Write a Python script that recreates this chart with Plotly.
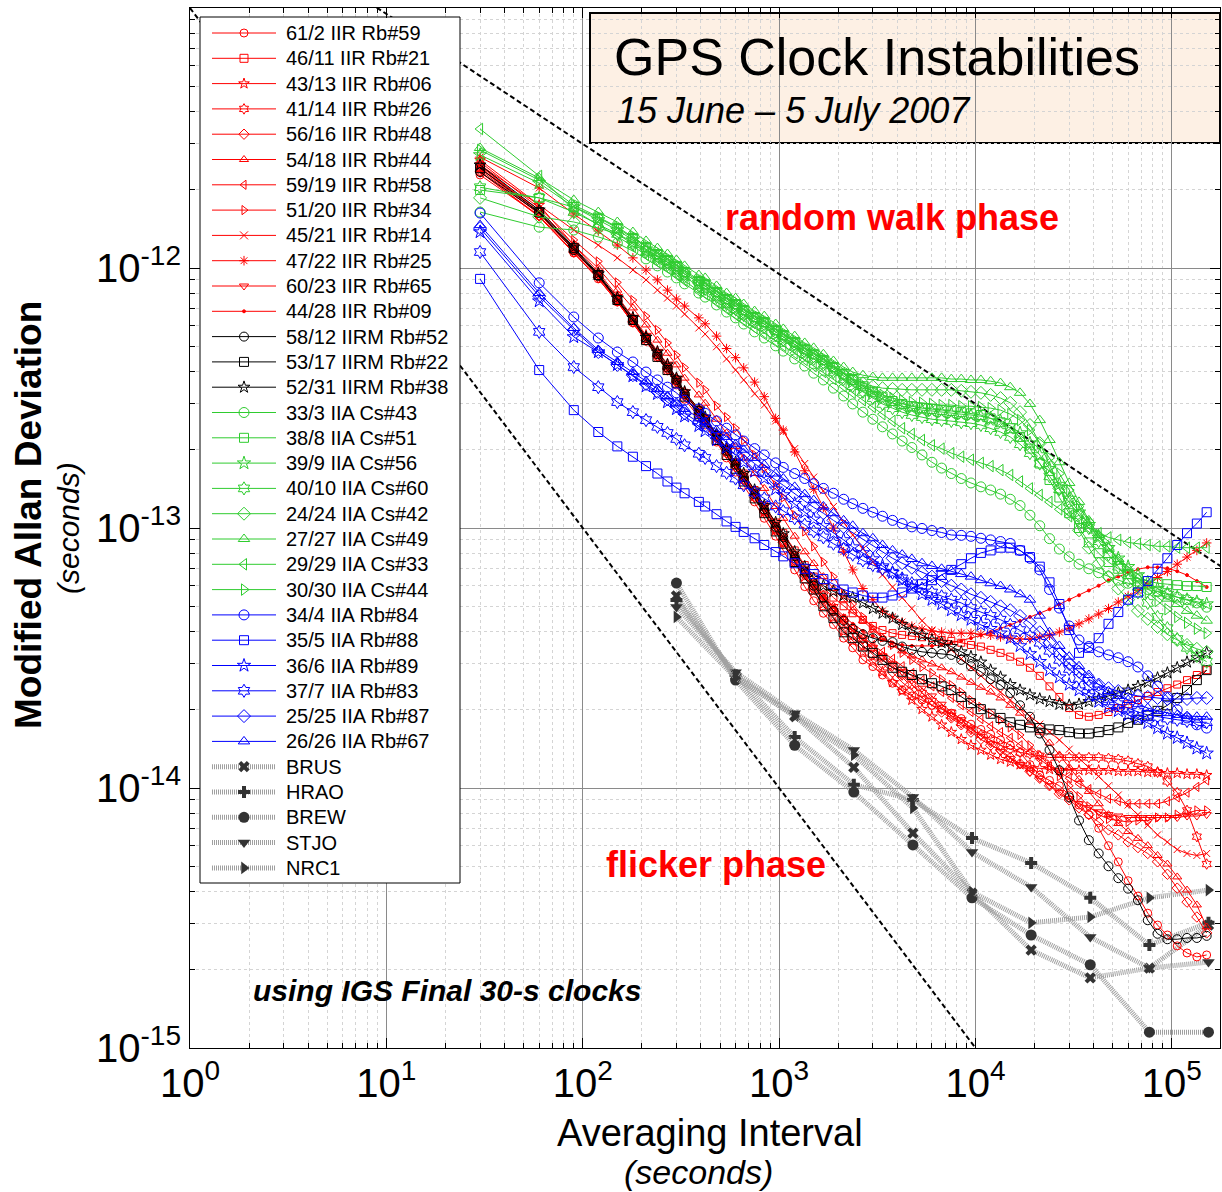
import plotly.graph_objects as go

# ---------------- data ----------------
TAU = [30, 60, 90, 120, 150, 180, 210, 240, 270, 300,
       330, 390, 420, 480, 540, 600, 660, 750, 840, 960,
       1050, 1200, 1350, 1500, 1680, 1890, 2130, 2370, 2670, 3000,
       3360, 3780, 4230, 4740, 5340, 6000, 6720, 7530, 8460, 9480,
       10650, 11940, 13410, 15030, 16860, 18930, 21240, 23820, 26730, 30000,
       33660, 37770, 42390, 47550, 53340, 59850, 67170, 75360, 84540, 94860,
       106440, 119430, 134010, 150360]
STATION_TAU = [300, 600, 1200, 2400, 4800, 9600, 19200, 38400, 76800, 153600]

# Modified Allan deviation, in units of 1e-15 s
IIR_61_2 = [2280,1586,1142,908,740,615,523,452,402,355,313,267,249,214,186,164,146,126,109,93,82,69,59.5,52.5,47,42.5,37.7,34.6,31.1,29.3,27.2,25.3,23.8,22.6,21.8,20.8,20.1,19.4,18.5,17.6,16.8,16.1,15.3,14.6,13.7,12.3,11.2,10.7,10.2,9.4,8.6,7.9,7.0,6.0,5.2,4.4,3.84,3.30,2.97,2.72,2.47,2.32,2.24,2.28]
IIR_46_11 = [2420,1614,1172,932,753,631,538,466,414,371,331,284,264,228,202,179,162,140,122,105,95.5,82,72,65,59,54,50,47,44.3,42,40.5,39.4,38.8,38.4,38,37.7,37.1,36.8,36.2,35.5,35,34,33.1,32,30.6,29,27,24.6,22.4,20.3,19.1,18.8,19.1,19.6,20.3,21,21.8,22.6,23.4,24.2,25,26,27.2,28.4]
IIR_43_13 = [2602,1746,1225,965,779,648,552,479,428,377,334,284,264,226,198,175,155,133,115,98,88,74,65,57,51,45.5,40.5,36.8,33.4,30.6,28,25.5,23.6,21.8,20.1,18.8,17.5,16.4,15.4,14.6,14,13.4,12.9,12.6,12.3,12,11.9,11.8,11.7,11.7,11.7,11.7,11.7,11.7,11.6,11.6,11.6,11.5,11.5,11.4,11.4,11.3,11.3,11.2]
IIR_41_14 = [2489,1640,1182,940,760,637,543,470,418,374,331,284,264,228,200,177,158,137,120,103,92,79,69,61,55,49.6,44.7,40.8,37.4,34.6,32,29.5,27.2,25,23.2,21.6,20.1,18.9,17.8,16.8,16,15.3,14.6,14.1,13.7,13.5,13.3,13.1,13.1,13.1,13.1,13.1,13.1,13.0,12.9,12.7,12.4,12.1,11.5,10.6,9.6,8.2,6.5,5.1]
IIR_56_16 = [2340,1586,1152,921,746,620,528,458,409,364,322,276,258,222,194,172,153,131,115,98,88,75,66,58.5,53,48,42.5,38.7,35.5,32.5,30,27.9,25.5,23.8,22.2,20.8,19.6,18.6,17.5,16.4,15.4,14.6,14,13.1,12.4,11.6,10.9,10.2,9.5,9.0,8.4,7.9,7.4,6.9,6.6,6.2,5.9,5.6,5.2,4.66,4.12,3.64,3.19,2.77]
IIR_54_18 = [2420,1671,1225,996,822,702,604,528,470,424,377,325,302,262,232,206,186,162,142,121,109,93,81,73,65,58.5,53,48,44,40.5,37.7,35.5,33.7,32.2,31.1,30,29,28,26.7,25.5,24.4,23.4,22.2,20.8,19.4,17.9,16.4,14.9,13.4,12,10.8,9.7,8.7,7.9,7.3,6.8,6.4,6.0,5.5,5.1,4.55,4.05,3.55,2.92]
IIR_59_19 = [2382,1614,1172,932,753,631,538,466,414,371,328,282,262,226,198,175,157,135,118,101,90.5,77.5,68,60,54,49,44.7,41.2,38,35.5,33.4,31.4,29.4,27.7,26,24.6,23.4,22.2,20.8,19.6,18.4,17.3,16.4,15.6,14.6,13.7,12.9,12.1,11.5,10.9,10.4,9.9,9.5,9.1,8.9,8.7,8.7,8.7,8.7,8.9,9.2,9.6,10.1,10.7]
IIR_51_20 = [2556,1700,1282,1060,880,753,653,578,515,462,414,362,340,295,267,242,218,191,170,146,131,112,97,85,74,65,56,51,45.5,41.2,38,35.5,33.1,31.1,29.2,27.7,26.2,24.9,23.4,21.8,20.5,19.4,18.3,17.1,16,14.6,13.4,12.1,11.1,10.2,9.3,8.5,7.9,7.6,7.5,7.4,7.5,7.5,7.7,7.7,7.9,8.0,8.2,8.2]
IIR_45_21 = [2489,1746,1400,1225,1094,982,900,822,766,714,665,588,557,498,447,405,371,328,297,258,235,202,177,157,139,121,105,94,83,74,66,59.3,54,49,44,40.5,37.1,34,31.4,29,27,25,23.4,21.8,20.3,18.9,17.6,16.4,15.3,14.1,13,12,11.1,10.2,9.4,8.6,7.9,7.2,6.6,6.2,5.8,5.6,5.5,5.6]
IIR_47_22 = [2670,2030,1614,1388,1225,1094,982,900,822,760,714,643,610,547,490,452,413,364,320,264,238,196,166,141,120,100,81,69,58.5,53,48,45.5,43.5,41.9,40.9,40.2,39.8,39.4,39.4,39.4,39,38.7,38.1,37.7,37.4,37.4,38.1,38.7,39.8,41.2,42.8,44.7,46.7,49,51.9,54.7,57.5,60.5,64.5,68,72.6,77.3,82,87.6]
IIR_60_23 = [2340,1573,1142,908,740,615,523,455,405,362,320,274,255,220,193,170,153,131,115,98,88,75,66,58.5,53,48.2,43.6,40.2,37.1,34.6,32.2,30,28,26,24.2,22.6,21,19.6,18.3,17,15.8,14.8,13.8,13,12.3,11.5,10.9,10.2,9.6,9.1,8.7,8.4,8.1,7.9,7.8,7.7,7.7,7.7,7.7,7.7,7.7,7.8,7.8,7.9]
IIR_44_28 = [2466,1640,1182,940,760,637,543,470,418,374,331,284,264,228,200,177,160,137,120,103,92,79,69,61,55,50,45.9,42.8,40.2,38.4,37.1,36.2,35.5,35.2,35.2,35.2,35.5,36.2,36.8,37.7,38.7,39.8,41.2,42.4,43.9,45.5,47,48.7,50.9,53,55.1,57.5,60,62.9,65.1,67.5,69.4,70.6,70.6,70,68.2,65.9,62.5,59.3]
IIRM_58_12 = [2340,1630,1172,932,753,631,538,466,414,371,328,282,262,226,198,175,157,135,118,101,92,78,68,60,54,48,44,41,39,37.7,36.8,36.4,35,34,33.4,33.1,32.8,32.5,31.1,29.4,28,26.2,24.9,23.2,20.8,18.8,16.2,14,11.7,9.2,7.5,6.3,5.6,5.0,4.5,4.1,3.7,3.1,2.75,2.62,2.62,2.65,2.65,2.70]
IIRM_53_17 = [2420,1640,1192,940,753,631,528,455,405,362,320,274,255,218,191,169,151,130,114,97,87,74,64,58,50,45,39.7,37.7,35,33.1,31.1,29,28,27.2,26.2,25.3,24.6,23.8,22.4,21.2,20.1,19.3,18.6,17.9,17.5,17.1,17,16.8,16.7,16.4,16.2,16.2,16.4,16.7,17.1,17.8,18.3,19,19.8,20.8,22.2,23.8,26,28.4]
IIRM_52_31 = [2489,1671,1203,950,766,643,542,475,424,377,334,287,267,230,202,179,162,140,122,105,95,81,71,64,60,57,55,54,51.5,49,47,45,42.5,40.5,38.7,37.1,36.2,35,33.4,32,30.5,28.4,26.7,25,23.8,22.8,22,21.5,21,20.8,21,21.5,22,22.6,23.2,23.8,24.6,25.5,26.5,27.7,29,30.5,31.7,33.1]
IIA_33_3 = [1641,1436,1400,1317,1247,1162,1084,1019,965,916,869,801,773,721,677,643,609,568,538,502,479,447,420,394,371,345,322,300,279,262,245,230,216,204,191,179,170,162,155,149,144,140,135,129,122,112,102,91,83,77.5,72.6,69.7,67.3,65,63,61.3,59.8,58,57,55.6,54.2,53,51.5,49.6]
IIA_38_8 = [1995,1861,1716,1561,1424,1305,1203,1132,1074,1019,965,892,869,808,760,727,689,648,620,578,552,519,489,466,443,416,390,371,351,334,320,308,300,294,289,287,284,282,279,276,272,264,255,242,224,202,177,153,131,114,100,88,80,74,69.7,66.5,64,62.5,61.3,60.8,60.3,59.8,59.8,59.3]
IIA_39_9 = [2722,2121,1716,1531,1400,1282,1182,1112,1055,1000,949,877,853,794,746,714,677,637,609,568,543,510,479,458,435,409,384,364,345,328,313,303,294,289,284,282,279,276,274,272,269,264,258,247,232,212,191,169,147,130,115,103,92,84,76.5,71,66,61.8,58.5,56,54.2,53,52,51]
IIA_40_10 = [2045,1861,1641,1476,1352,1236,1152,1084,1028,973,924,853,830,773,727,695,659,620,593,552,528,498,466,447,424,398,374,351,334,316,300,289,279,272,267,262,260,258,255,253,249,242,234,224,210,194,177,158,141,126,112,100,89,79,71,63,56.5,51.5,45.5,41.2,37.4,34.6,32.2,30.6]
IIA_24_24 = [1861,1573,1503,1424,1352,1259,1172,1112,1055,1000,949,877,853,794,746,714,677,637,609,568,543,510,479,458,435,413,390,374,361,351,345,343,340,340,340,340,340,340,337,334,331,325,316,303,279,249,212,175,142,117,98,84,73,65,58.5,53,48,44.7,41.6,39,37.1,35.5,34.3,33.4]
IIA_27_27 = [2895,2218,1827,1641,1503,1375,1271,1193,1132,1074,1019,940,916,853,801,766,727,683,653,609,583,547,515,493,466,439,416,398,387,381,378,378,378,378,378,378,378,374,374,371,371,367,361,348,331,300,260,218,179,149,126,107,94,84,76,70,64,60,56,53.5,51,48,46,44]
IIA_29_29 = [3426,2260,1671,1462,1328,1214,1122,1055,1000,940,892,815,794,740,695,659,626,588,562,523,502,470,443,420,398,374,351,331,310,292,274,258,242,230,218,208,202,194,188,183,178,173,167,160,151,142,134,126,118,111,105,100,95.5,92,90,88,87,86,85,85,84,84,84,84]
IIA_30_30 = [2844,2178,1746,1573,1436,1317,1214,1152,1084,1028,973,900,877,815,766,740,695,653,626,583,557,523,493,470,447,420,394,374,355,337,325,316,310,305,303,300,297,297,294,294,292,289,284,274,260,238,212,186,162,140,121,106,94,84,75,68.4,61.8,56.5,52.4,48.7,45.5,43.2,41,39.4]
IIA_34_4 = [1627,877,648,538,475,435,398,371,348,331,310,287,276,258,242,228,216,202,191,178,171,162,155,148,142,136,129,124,119,115,111,107,104,101,99.6,97.8,96.1,94,93.7,92.9,91.3,90,88.7,87.2,82,76.5,69,58,49.2,42,37.1,35,33.4,32.5,31.7,30.6,29.2,27,24.6,22.4,20,18.6,17.5,17]
IIA_35_5 = [908,405,284,234,206,188,173,162,151,143,136,126,121,113,106,101,96.6,91.3,86,80.8,77.8,73.2,69.7,66.5,63.6,60.8,58,56.5,55,54,54,55,56.5,58.5,60.8,63,66,69,72.6,76.5,80.2,82,84,84,82,77.3,71,61.8,51,40.5,33.1,34.6,37.7,42.8,47.5,53,56.5,62.5,69.7,76.5,86,95.5,104,115]
IIA_36_6 = [1375,746,543,475,424,384,351,328,305,287,269,247,236,218,204,191,179,165,155,141,134,124,115,108,102,95.5,90,84.5,80.2,76,71.4,67.3,63,59.3,55.6,53,51,48.3,46.3,44.4,42.4,41,39.4,37.7,35.2,32.8,30.6,28.4,26.7,25,23.8,22.6,21.5,20.5,19.8,19.1,18.5,17.8,17,16.2,15.6,14.9,14.2,13.6]
IIA_37_7 = [1152,568,416,348,305,279,260,245,232,220,208,193,186,173,163,155,146,137,130,121,116,109,103,97,92,87,83,79,75,72,69.7,67.3,64,61.3,58.5,56.5,54.6,53,51.5,49.2,47.5,45.9,44.4,42.4,40.5,38.4,36.2,33.7,31.1,28.7,26.5,24.6,23.2,22,21,20.3,19.6,19.1,18.8,18.5,18.3,18.1,17.9,17.9]
IIA_25_25 = [1424,779,578,475,424,387,358,334,313,294,276,255,247,228,214,202,191,177,165,153,146,135,127,120,114,107,101,95.5,90,85,80.8,76.5,73.2,70.3,67.3,65,62.5,60,58,55.6,53.9,52,50,48.3,45.9,43.2,39.7,36.2,32.8,30,28,26.2,25,24.2,23.6,23,22.6,22.4,22.2,22,22,22,22.2,22.2]
IIA_26_26 = [1462,801,588,484,435,398,367,343,322,303,287,264,255,238,224,210,200,186,175,162,155,144,135,128,121,114,107,102,95.5,91.3,86,82,79,76,73.2,71.4,69.7,68.4,66.5,65,63,61.3,59.8,58,55.6,53,46,39.7,35.2,32,29.4,27.2,25,23.6,22.6,21.8,21,20.3,19.8,19.4,19.1,18.9,18.8,18.8]

BRUS = [54.8, 27.0, 18.9, 12.0, 6.71, 3.94, 2.38, 1.86, 2.03, 2.97]
HRAO = [52.8, 27.2, 15.7, 10.3, 9.0, 6.42, 5.15, 3.78, 2.49, 3.03]
BREW = [61.4, 26.0, 14.6, 9.65, 6.04, 3.78, 2.72, 2.09, 1.15, 1.15]
STJO = [49.7, 27.9, 19.4, 14.0, 9.23, 5.67, 4.16, 2.67, 2.03, 2.14]
NRC1 = [45.5, 26.5, 18.9, 13.4, 8.38, 3.98, 3.03, 3.19, 3.78, 4.05]

# reference slopes (end points)
RW_TAU = [1, 180000]
RW_MDEV = [3.0e-11, 7.07e-14]
FL_TAU = [1, 10000]
FL_MDEV = [1e-11, 1e-15]

UNIT = 1e-15

# ---------------- styles ----------------
RED = '#ff0000'
BLK = '#000000'
GRN = '#2fcc2f'
BLU = '#0000ff'
ST_LINE = '#a0a0a0'
ST_MARK = '#333333'
FONT = 'Liberation Sans, Arial, Helvetica, sans-serif'

CLOCKS = [
    ('61/2 IIR Rb#59', IIR_61_2, RED, 'circle-open', 8),
    ('46/11 IIR Rb#21', IIR_46_11, RED, 'square-open', 7),
    ('43/13 IIR Rb#06', IIR_43_13, RED, 'star-open', 8),
    ('41/14 IIR Rb#26', IIR_41_14, RED, 'hexagram-open', 8),
    ('56/16 IIR Rb#48', IIR_56_16, RED, 'diamond-open', 8),
    ('54/18 IIR Rb#44', IIR_54_18, RED, 'triangle-up-open', 8),
    ('59/19 IIR Rb#58', IIR_59_19, RED, 'triangle-left-open', 8),
    ('51/20 IIR Rb#34', IIR_51_20, RED, 'triangle-right-open', 8),
    ('45/21 IIR Rb#14', IIR_45_21, RED, 'x-thin-open', 7),
    ('47/22 IIR Rb#25', IIR_47_22, RED, 'asterisk-open', 8),
    ('60/23 IIR Rb#65', IIR_60_23, RED, 'triangle-down-open', 8),
    ('44/28 IIR Rb#09', IIR_44_28, RED, 'circle', 3),
    ('58/12 IIRM Rb#52', IIRM_58_12, BLK, 'circle-open', 9),
    ('53/17 IIRM Rb#22', IIRM_53_17, BLK, 'square-open', 9),
    ('52/31 IIRM Rb#38', IIRM_52_31, BLK, 'star-open', 9),
    ('33/3 IIA Cs#43', IIA_33_3, GRN, 'circle-open', 10),
    ('38/8 IIA Cs#51', IIA_38_8, GRN, 'square-open', 9),
    ('39/9 IIA Cs#56', IIA_39_9, GRN, 'star-open', 10),
    ('40/10 IIA Cs#60', IIA_40_10, GRN, 'hexagram-open', 10),
    ('24/24 IIA Cs#42', IIA_24_24, GRN, 'diamond-open', 10),
    ('27/27 IIA Cs#49', IIA_27_27, GRN, 'triangle-up-open', 10),
    ('29/29 IIA Cs#33', IIA_29_29, GRN, 'triangle-left-open', 10),
    ('30/30 IIA Cs#44', IIA_30_30, GRN, 'triangle-right-open', 10),
    ('34/4 IIA Rb#84', IIA_34_4, BLU, 'circle-open', 10),
    ('35/5 IIA Rb#88', IIA_35_5, BLU, 'square-open', 9),
    ('36/6 IIA Rb#89', IIA_36_6, BLU, 'star-open', 10),
    ('37/7 IIA Rb#83', IIA_37_7, BLU, 'hexagram-open', 10),
    ('25/25 IIA Rb#87', IIA_25_25, BLU, 'diamond-open', 10),
    ('26/26 IIA Rb#67', IIA_26_26, BLU, 'triangle-up-open', 10),
]
STATIONS = [
    ('BRUS', BRUS, 'x', 10),
    ('HRAO', HRAO, 'cross', 10),
    ('BREW', BREW, 'circle', 11),
    ('STJO', STJO, 'triangle-down', 11),
    ('NRC1', NRC1, 'triangle-right', 11),
]

ST_DASH = '1px,1px'

fig = go.Figure()

# reference slope lines
for tx, ty in ((RW_TAU, RW_MDEV), (FL_TAU, FL_MDEV)):
    fig.add_trace(go.Scatter(x=tx, y=ty, mode='lines', showlegend=False, hoverinfo='skip',
                             line=dict(color='black', width=2, dash='5px,3px')))

# station clocks
for name, vals, sym, sz in STATIONS:
    fig.add_trace(go.Scatter(
        x=STATION_TAU, y=[v * UNIT for v in vals], mode='lines+markers', name=name,
        showlegend=False,
        line=dict(color=ST_LINE, width=5, dash=ST_DASH),
        marker=dict(symbol=sym, size=sz, color=ST_MARK, line=dict(width=0))))

# satellite clocks
for name, vals, col, sym, sz in CLOCKS:
    fig.add_trace(go.Scatter(
        x=TAU, y=[v * UNIT for v in vals], mode='lines+markers', name=name,
        showlegend=False,
        line=dict(color=col, width=1),
        marker=dict(symbol=sym, size=sz, color=col, line=dict(color=col, width=1))))

# ---------------- custom legend (overlay axes in pixel units) ----------------
L_X0, L_X1, L_Y0, L_Y1 = 10, 270, 9, 875
fig.add_trace(go.Scatter(x=[L_X0, L_X1, L_X1, L_X0, L_X0], y=[L_Y0, L_Y0, L_Y1, L_Y1, L_Y0],
                         xaxis='x2', yaxis='y2', mode='lines', fill='toself',
                         fillcolor='white', line=dict(color='black', width=1),
                         showlegend=False, hoverinfo='skip'))
annotations = []
entries = [(n, c, s, z, False) for n, _, c, s, z in CLOCKS] + \
          [(n, ST_MARK, s, z, True) for n, _, s, z in STATIONS]
for i, (name, col, sym, sz, is_st) in enumerate(entries):
    yy = 25 + 25.3 * i
    if is_st:
        ln = dict(color=ST_LINE, width=5, dash=ST_DASH)
        mk = dict(symbol=sym, size=sz, color=ST_MARK, line=dict(width=0))
    else:
        ln = dict(color=col, width=1)
        msz = sz if sz < 5 else max(sz, 8)
        mk = dict(symbol=sym, size=msz, color=col, line=dict(color=col, width=1))
    fig.add_trace(go.Scatter(x=[22, 86], y=[yy, yy], xaxis='x2', yaxis='y2', mode='lines',
                             line=ln, showlegend=False, hoverinfo='skip'))
    fig.add_trace(go.Scatter(x=[54], y=[yy], xaxis='x2', yaxis='y2', mode='markers',
                             marker=mk, showlegend=False, hoverinfo='skip'))
    annotations.append(dict(x=94, y=yy, xref='x2', yref='y2', text=name, showarrow=False,
                            xanchor='left', yanchor='middle',
                            font=dict(family=FONT, size=20, color='black')))


def px(x):
    return (x - 190) / 1030.0


def py(y):
    return (1048 - y) / 1040.0


def ann(x, y, text, size, color='black', xanchor='center', angle=0):
    annotations.append(dict(x=px(x), y=py(y), xref='paper', yref='paper', text=text,
                            showarrow=False, xanchor=xanchor, yanchor='middle',
                            textangle=angle, font=dict(family=FONT, size=size, color=color)))


ann(892, 218, '<b>random walk phase</b>', 36, RED)
ann(716, 864, '<b>flicker phase</b>', 36, RED)
ann(447, 990, '<b><i>using IGS Final 30-s clocks</i></b>', 30)
ann(612, 57, 'GPS Clock Instabilities', 52, xanchor='left')
ann(615, 111, '<i>15 June \u2013 5 July 2007</i>', 36, xanchor='left')
ann(28, 515, '<b>Modified Allan Deviation</b>', 37, angle=-90)
ann(68, 528, '<i>(seconds)</i>', 30, angle=-90)
ann(710, 1133, 'Averaging Interval', 38)
ann(698, 1172, '<i>(seconds)</i>', 34)

shapes = [dict(type='rect', xref='paper', yref='paper', x0=px(590), x1=px(1220),
               y0=py(143), y1=py(13), fillcolor='#fdf0e4', line=dict(color='black', width=2),
               layer='below')]

x_major = [1, 10, 100, 1e3, 1e4, 1e5]
x_text = ['10<sup>%d</sup>' % k for k in range(6)]
x_minor = [m * 10 ** k for k in range(0, 6) for m in range(2, 10)]
y_major = [1e-15, 1e-14, 1e-13, 1e-12]
y_text = ['10<sup>-15</sup>', '10<sup>-14</sup>', '10<sup>-13</sup>', '10<sup>-12</sup>']
y_minor = [m * 10.0 ** k for k in range(-15, -11) for m in range(2, 10)]

common = dict(type='log', ticks='inside', ticklen=10, tickcolor='black', tickwidth=1,
              showline=True, linecolor='black', linewidth=1, mirror='allticks',
              showgrid=True, gridcolor='#8a8a8a', gridwidth=1, zeroline=False,
              tickfont=dict(family=FONT, size=40, color='black'))
minor_common = dict(tickmode='array', ticks='inside', ticklen=5, tickcolor='black',
                    showgrid=True, gridcolor='#d4d4d4', griddash='dot', gridwidth=1)

fig.update_layout(
    width=1222, height=1192, margin=dict(l=190, r=2, t=8, b=144),
    paper_bgcolor='white', plot_bgcolor='white', showlegend=False,
    xaxis=dict(range=[0, 5.245], tickmode='array', tickvals=x_major, ticktext=x_text,
               minor=dict(tickvals=x_minor, **minor_common), **common),
    yaxis=dict(range=[-15, -11], tickmode='array', tickvals=y_major, ticktext=y_text,
               minor=dict(tickvals=y_minor, **minor_common), **common),
    xaxis2=dict(overlaying='x', range=[0, 1030], visible=False, fixedrange=True),
    yaxis2=dict(overlaying='y', range=[1040, 0], visible=False, fixedrange=True),
    annotations=annotations,
    shapes=shapes,
)

fig.write_html('out.html')
